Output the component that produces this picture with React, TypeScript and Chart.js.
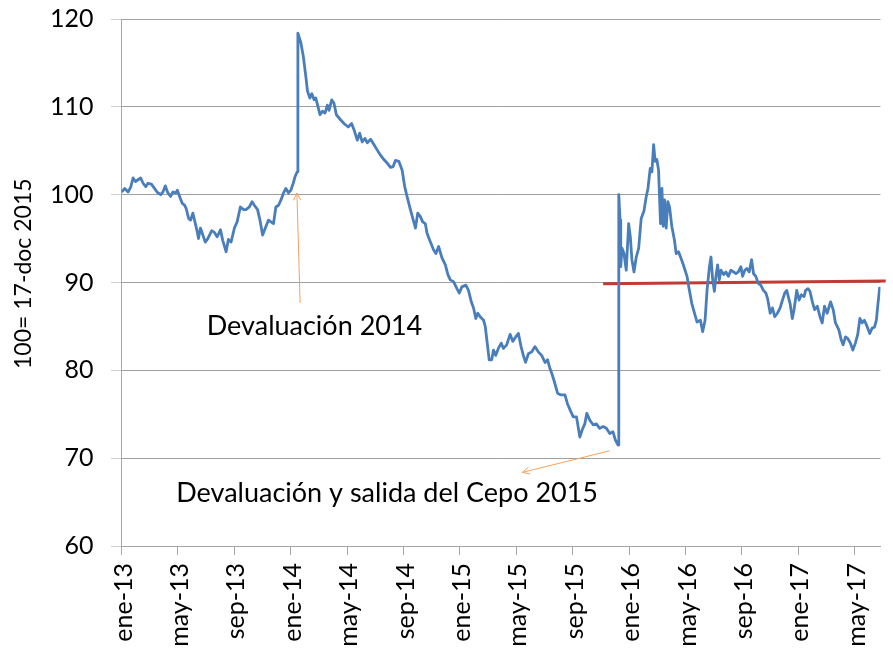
import React, { useEffect, useRef } from "react";
import { Chart, registerables } from "chart.js";

Chart.register(...registerables);

// Months since ene-13 (fractional) for each reading of the index
const months = [
  0.00, 0.23, 0.47, 0.66, 0.82, 0.99, 1.17, 1.36, 1.53, 1.72, 1.88, 2.12, 2.30, 2.52, 2.78, 2.94, 3.11, 3.29, 3.48, 3.65,
  3.84, 3.96, 4.12, 4.31, 4.47, 4.59, 4.76, 4.90, 5.06, 5.18, 5.37, 5.46, 5.60, 5.77, 5.94, 6.12, 6.40, 6.59, 6.78, 7.02,
  7.18, 7.42, 7.58, 7.77, 8.01, 8.20, 8.43, 8.66, 8.83, 9.07, 9.26, 9.42, 9.65, 9.82, 10.01, 10.25, 10.43, 10.60, 10.78, 10.95,
  11.14, 11.31, 11.49, 11.66, 11.84, 12.01, 12.18, 12.32, 12.46, 12.51, 12.72, 12.90, 13.07, 13.19, 13.36, 13.50, 13.66, 13.78, 13.94, 14.08,
  14.25, 14.44, 14.60, 14.72, 14.91, 15.07, 15.24, 15.55, 15.78, 16.08, 16.32, 16.49, 16.72, 16.89, 17.07, 17.27, 17.43, 17.67, 17.90, 18.13,
  18.37, 18.61, 18.84, 19.08, 19.27, 19.43, 19.67, 19.90, 20.09, 20.25, 20.49, 20.66, 20.85, 21.01, 21.20, 21.36, 21.55, 21.67, 21.91, 22.14,
  22.30, 22.49, 22.73, 22.97, 23.15, 23.32, 23.55, 23.79, 23.96, 24.14, 24.42, 24.61, 24.81, 24.97, 25.13, 25.27, 25.44, 25.68, 25.80, 25.91,
  26.08, 26.26, 26.38, 26.54, 26.73, 26.93, 27.09, 27.32, 27.56, 27.75, 27.96, 28.15, 28.34, 28.50, 28.66, 28.86, 29.09, 29.33, 29.56, 29.80,
  30.04, 30.22, 30.39, 30.55, 30.74, 30.93, 31.17, 31.45, 31.63, 31.87, 32.04, 32.27, 32.51, 32.67, 32.86, 33.00, 33.22, 33.45, 33.68, 33.92,
  34.16, 34.39, 34.63, 34.86, 35.02, 35.22, 35.27, 35.36, 35.41, 35.50, 35.64, 35.80, 35.97, 36.09, 36.20, 36.35, 36.51, 36.68, 36.86, 37.05,
  37.22, 37.34, 37.50, 37.62, 37.74, 37.85, 37.97, 38.09, 38.23, 38.33, 38.42, 38.52, 38.63, 38.75, 38.87, 39.03, 39.22, 39.34, 39.51, 39.65,
  39.81, 39.97, 40.11, 40.28, 40.45, 40.64, 40.82, 41.06, 41.22, 41.39, 41.53, 41.70, 41.81, 41.93, 42.05, 42.16, 42.28, 42.40, 42.52, 42.71,
  42.87, 43.04, 43.22, 43.41, 43.58, 43.75, 43.93, 44.05, 44.21, 44.35, 44.52, 44.69, 44.83, 44.99, 45.16, 45.34, 45.53, 45.70, 45.82, 46.01,
  46.17, 46.33, 46.52, 46.71, 46.88, 47.04, 47.18, 47.42, 47.58, 47.70, 47.89, 48.06, 48.22, 48.41, 48.52, 48.69, 48.83, 49.00, 49.16, 49.35,
  49.54, 49.70, 49.86, 50.05, 50.29, 50.48, 50.64, 50.88, 51.04, 51.18, 51.35, 51.52, 51.70, 51.87, 52.05, 52.22, 52.37, 52.53, 52.69, 52.88,
  53.07, 53.24, 53.40, 53.54, 53.64, 53.78,
];

// Index values (100 = 17-dic 2015)
const indexValues = [
  100.3, 100.7, 100.3, 100.9, 101.9, 101.5, 101.7, 101.9, 101.3, 100.9, 101.3, 101.2, 100.8, 100.3, 100.0, 100.3, 101.0, 100.2, 99.8, 100.3,
  100.2, 100.5, 99.8, 99.0, 98.8, 98.4, 97.3, 97.1, 97.9, 97.1, 95.8, 95.0, 96.2, 95.4, 94.6, 95.0, 95.9, 95.7, 95.2, 96.0,
  94.8, 93.5, 94.9, 94.6, 96.2, 96.9, 98.6, 98.3, 98.3, 98.6, 99.2, 98.8, 98.3, 97.1, 95.4, 96.4, 97.1, 96.9, 96.7, 98.6,
  98.8, 99.4, 100.2, 100.7, 100.2, 100.5, 101.3, 102.1, 102.6, 118.4, 117.3, 115.7, 113.5, 111.8, 111.0, 111.5, 110.8, 111.0, 110.0, 109.1,
  109.5, 109.3, 110.2, 109.6, 110.8, 110.4, 109.1, 108.5, 108.1, 107.7, 108.1, 107.4, 106.2, 107.0, 106.0, 106.4, 105.9, 106.3, 105.7, 105.1,
  104.5, 104.0, 103.6, 103.1, 103.2, 103.9, 103.8, 102.8, 100.9, 99.8, 98.3, 97.3, 96.2, 97.9, 97.5, 96.9, 96.7, 95.6, 94.6, 93.7,
  93.3, 94.1, 92.8, 92.0, 90.9, 90.3, 90.1, 89.3, 88.8, 89.5, 89.7, 89.1, 87.8, 87.1, 85.9, 86.5, 86.1, 85.7, 85.0, 83.5,
  81.2, 81.2, 82.3, 81.7, 82.5, 83.1, 82.5, 82.9, 84.1, 83.3, 83.8, 84.2, 82.7, 81.7, 80.9, 81.9, 82.1, 82.7, 82.1, 81.7,
  80.9, 81.2, 80.2, 79.5, 78.5, 77.4, 77.2, 77.2, 76.2, 75.3, 74.7, 74.7, 72.4, 73.2, 73.9, 75.1, 74.3, 73.8, 73.9, 73.4,
  73.6, 73.4, 72.8, 73.0, 72.1, 71.5, 100.0, 97.1, 91.8, 93.9, 93.3, 91.4, 96.7, 95.2, 92.6, 91.2, 92.9, 93.9, 97.3, 98.1,
  99.8, 100.7, 103.0, 102.6, 105.7, 103.8, 104.0, 102.8, 96.7, 100.7, 96.4, 99.4, 96.2, 99.2, 98.6, 96.4, 94.8, 93.3, 93.5, 92.9,
  92.2, 91.4, 90.7, 89.1, 87.6, 86.5, 85.5, 85.7, 84.4, 85.7, 89.1, 91.8, 92.9, 90.3, 89.0, 90.7, 92.0, 90.3, 91.4, 90.9,
  91.2, 90.7, 91.4, 91.2, 91.0, 91.2, 91.8, 90.7, 91.4, 91.6, 91.2, 92.6, 91.0, 90.7, 89.9, 89.7, 89.1, 88.8, 88.2, 86.5,
  87.1, 86.1, 86.5, 87.1, 88.0, 88.8, 89.1, 87.6, 85.9, 86.9, 89.1, 88.0, 88.6, 88.4, 89.1, 89.3, 89.0, 87.8, 86.9, 87.3,
  86.1, 85.4, 87.3, 86.5, 87.8, 86.9, 85.4, 84.6, 83.5, 82.9, 83.8, 83.6, 83.1, 82.3, 83.1, 84.1, 85.9, 85.4, 85.7, 85.0,
  84.2, 84.8, 84.9, 85.7, 87.4, 89.5,
];

// Red reference line (start / end)
const refMonths = [34.16, 54.2];
const refValues = [89.86, 90.17];

const tickMonths = [0, 4, 8, 12, 16, 20, 24, 28, 32, 36, 40, 44, 48, 52];
const tickLabels = [
  "ene-13", "may-13", "sep-13", "ene-14", "may-14", "sep-14", "ene-15",
  "may-15", "sep-15", "ene-16", "may-16", "sep-16", "ene-17", "may-17",
];

const yTitle = "100= 17-doc 2015";

// Annotations: text anchor (month, value) and arrow tail/tip in data units
const note1 = { text: "Devaluación 2014", x: 13.69, y: 84.0 };
const arrow1 = { x0: 12.67, y0: 87.66, x1: 12.44, y1: 100.19 };
const note2 = { text: "Devaluación y salida del Cepo 2015", x: 18.84, y: 65.03 };
const arrow2 = { x0: 34.63, y0: 70.84, x1: 28.43, y1: 68.38 };

const FONT = "Lato, 'Open Sans', sans-serif";

const annotationPlugin = {
  id: "notes",
  afterDraw(chart: any) {
    const { ctx, scales } = chart;
    const xs = scales.x;
    const ys = scales.y;
    ctx.save();
    // Y-axis title
    ctx.fillStyle = "#000";
    ctx.font = `23px ${FONT}`;
    ctx.textAlign = "center";
    ctx.textBaseline = "middle";
    ctx.translate(24, ys.getPixelForValue(91.0));
    ctx.rotate(-Math.PI / 2);
    ctx.fillText(yTitle, 0, 0);
    ctx.restore();

    ctx.save();
    ctx.fillStyle = "#000";
    ctx.font = `27px ${FONT}`;
    ctx.textAlign = "center";
    ctx.textBaseline = "alphabetic";
    for (const n of [note1, note2]) {
      ctx.fillText(n.text, xs.getPixelForValue(n.x), ys.getPixelForValue(n.y));
    }
    ctx.strokeStyle = "#F6A15C";
    ctx.lineWidth = 1;
    for (const a of [arrow1, arrow2]) {
      const x0 = xs.getPixelForValue(a.x0);
      const y0 = ys.getPixelForValue(a.y0);
      const x1 = xs.getPixelForValue(a.x1);
      const y1 = ys.getPixelForValue(a.y1);
      ctx.beginPath();
      ctx.moveTo(x0, y0);
      ctx.lineTo(x1, y1);
      const ang = Math.atan2(y1 - y0, x1 - x0);
      const L = 8;
      ctx.moveTo(x1 - L * Math.cos(ang - 0.45), y1 - L * Math.sin(ang - 0.45));
      ctx.lineTo(x1, y1);
      ctx.lineTo(x1 - L * Math.cos(ang + 0.45), y1 - L * Math.sin(ang + 0.45));
      ctx.stroke();
    }
    ctx.restore();
  },
};

export default function App() {
  const ref = useRef<HTMLCanvasElement | null>(null);
  useEffect(() => {
    if (!ref.current) return;
    const series = months.map((m, i) => ({ x: m, y: indexValues[i] }));
    const refLine = refMonths.map((m, i) => ({ x: m, y: refValues[i] }));
    const chart = new Chart(ref.current, {
      type: "line",
      data: {
        datasets: [
          {
            data: refLine,
            borderColor: "#BF3B33",
            borderWidth: 3,
            pointRadius: 0,
            tension: 0,
            clip: false as any,
            order: 2,
          },
          {
            data: series,
            borderColor: "#4A7EBB",
            borderWidth: 2.8,
            pointRadius: 0,
            tension: 0,
            borderJoinStyle: "round",
            order: 1,
          },
        ],
      },
      options: {
        animation: false,
        responsive: false,
        maintainAspectRatio: false,
        layout: { padding: { top: 19, right: 10, left: 0, bottom: 0 } },
        plugins: {
          legend: { display: false },
          tooltip: { enabled: false },
        },
        scales: {
          x: {
            type: "linear",
            min: 0,
            max: 53.83,
            afterBuildTicks: (scale: any) => {
              scale.ticks = tickMonths.map((v) => ({ value: v }));
            },
            afterFit: (scale: any) => {
              scale.height = 110;
            },
            ticks: {
              autoSkip: false,
              minRotation: 90,
              maxRotation: 90,
              padding: 8,
              labelOffset: 2,
              color: "#000",
              font: { family: FONT, size: 25 },
              callback: (v: any) => {
                const i = tickMonths.indexOf(Number(v));
                return i >= 0 ? tickLabels[i] : "";
              },
            },
            grid: {
              drawOnChartArea: false,
              drawTicks: true,
              tickLength: 9,
              tickColor: "#A6A6A6",
              color: "#A6A6A6",
            },
            border: { display: true, color: "#A6A6A6", width: 1 },
          },
          y: {
            type: "linear",
            min: 60,
            max: 120,
            afterFit: (scale: any) => {
              scale.width = 121.5;
              scale.paddingTop = 0;
              scale.paddingBottom = 0;
            },
            ticks: {
              stepSize: 10,
              padding: 18,
              color: "#000",
              font: { family: FONT, size: 25 },
            },
            grid: {
              color: "#A0A0A0",
              lineWidth: 1,
              borderDash: [1, 1],
              tickBorderDash: [1, 1],
              tickLength: 10,
              tickColor: "#A0A0A0",
            },
            border: { display: true, color: "#A6A6A6", width: 1 },
          },
        },
      },
      plugins: [annotationPlugin],
    });
    return () => chart.destroy();
  }, []);
  return (
    <div style={{ position: "absolute", left: 0, top: 0, width: 893, height: 656, background: "#fff" }}>
      <canvas ref={ref} width={893} height={656} style={{ width: 893, height: 656 }} />
    </div>
  );
}
